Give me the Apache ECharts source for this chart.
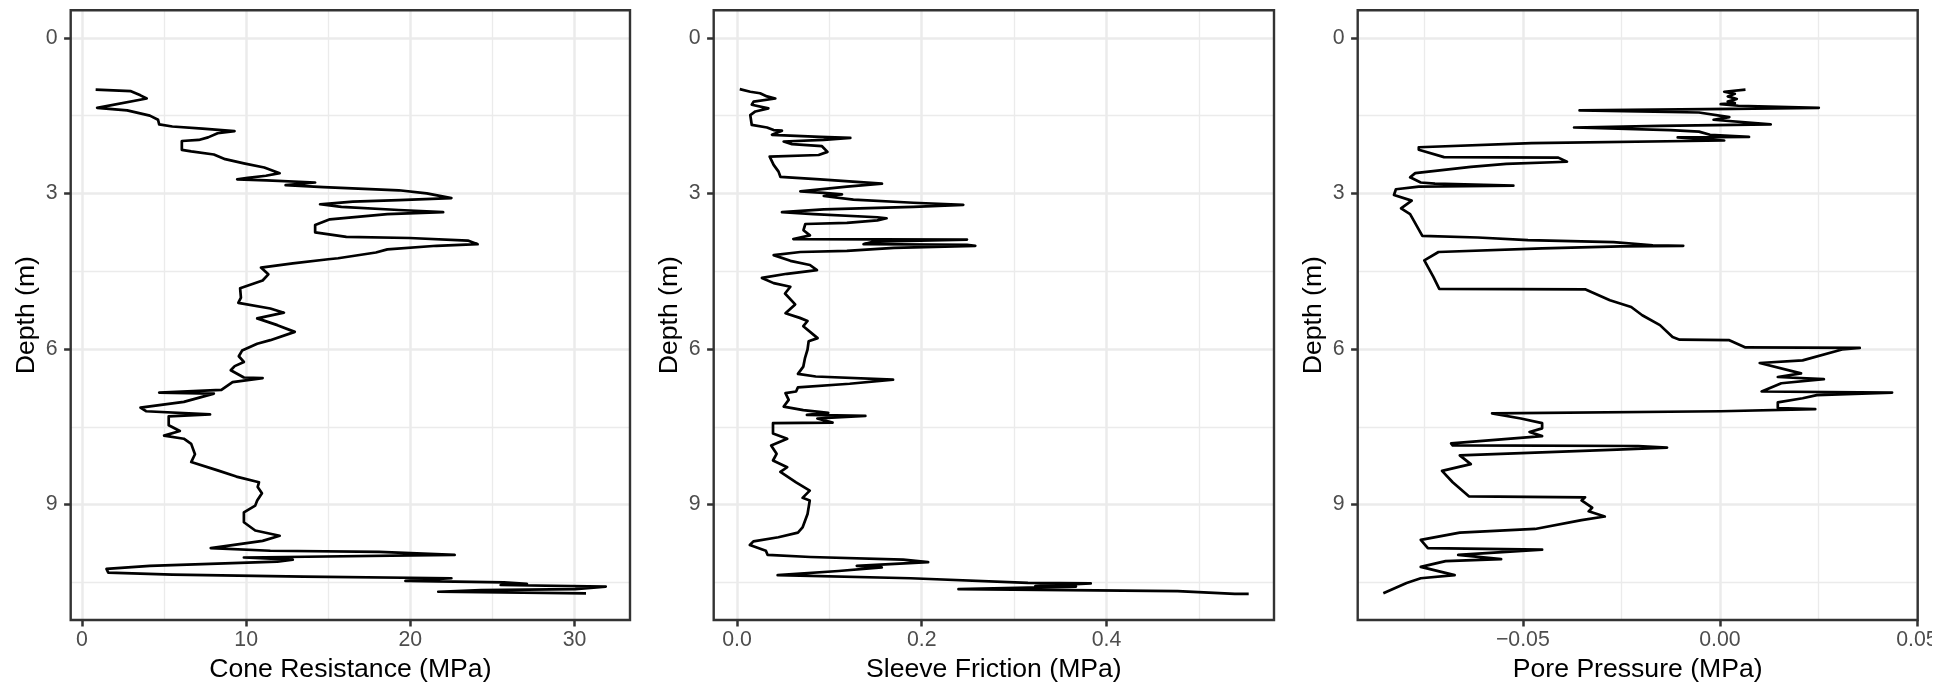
<!DOCTYPE html>
<html>
<head>
<meta charset="utf-8">
<script src="https://cdn.jsdelivr.net/npm/echarts@6.0.0/dist/echarts.min.js"></script>
<style>
html,body{margin:0;padding:0;background:#ffffff;}
#chart{width:1932px;height:685px;}
</style>
</head>
<body>
<div id="chart"></div>
<script>
// ---------------- DATA ----------------
const coneDepth = [1.00,1.03,1.11,1.17,1.35,1.40,1.50,1.58,1.67,1.71,1.75,1.80,1.84,1.92,1.97,1.99,2.16,2.19,2.25,2.34,2.42,2.50,2.61,2.66,2.70,2.73,2.75,2.79,2.84,2.86,2.88,2.94,3.00,3.09,3.13,3.16,3.21,3.26,3.32,3.36,3.40,3.50,3.61,3.75,3.84,3.86,3.91,3.98,4.01,4.08,4.14,4.25,4.27,4.35,4.43,4.56,4.68,4.83,5.01,5.11,5.22,5.30,5.41,5.54,5.67,5.83,5.90,6.03,6.14,6.25,6.33,6.41,6.55,6.56,6.64,6.79,6.84,6.86,7.02,7.13,7.20,7.26,7.30,7.47,7.58,7.67,7.73,7.83,8.03,8.18,8.34,8.46,8.57,8.66,8.78,8.92,9.02,9.15,9.34,9.50,9.60,9.70,9.79,9.84,9.89,9.91,9.97,10.01,10.02,10.06,10.10,10.18,10.24,10.31,10.35,10.39,10.42,10.47,10.50,10.53,10.55,10.58,10.63,10.65,10.68,10.71];
const coneResistance = [0.83,2.98,3.56,3.94,0.92,2.75,4.13,4.63,4.70,5.50,7.34,9.29,8.26,7.68,7.11,6.08,6.08,6.65,8.03,8.72,9.86,11.10,12.04,11.20,10.10,9.45,11.24,14.20,12.40,12.30,14.70,19.30,21.00,22.50,19.30,16.50,14.50,15.80,19.30,22.00,18.60,15.10,14.20,14.20,16.10,19.95,23.50,24.10,21.60,18.60,17.90,15.60,15.00,12.84,10.90,11.35,11.00,9.63,9.68,9.52,11.47,12.30,10.67,11.90,12.96,11.47,10.67,9.75,9.55,9.86,9.30,9.06,9.86,11.00,9.17,8.49,4.70,8.03,6.20,3.56,3.90,7.80,5.28,5.28,5.96,5.00,6.20,6.65,6.88,6.65,8.26,9.40,10.78,10.70,10.96,10.67,10.55,9.86,9.86,10.55,12.04,11.00,8.94,7.84,11.47,18.10,22.70,12.40,9.86,12.84,11.90,4.13,1.49,1.60,5.50,13.50,22.50,19.70,25.70,27.10,25.50,31.90,30.05,24.30,21.70,30.70];

const sleeveDepth = [0.99,1.04,1.07,1.13,1.17,1.23,1.29,1.36,1.42,1.49,1.68,1.73,1.78,1.79,1.87,1.91,1.93,1.97,2.00,2.05,2.09,2.20,2.26,2.29,2.45,2.58,2.68,2.73,2.81,2.87,2.96,2.99,3.02,3.05,3.12,3.18,3.22,3.26,3.31,3.36,3.40,3.46,3.48,3.52,3.57,3.59,3.71,3.81,3.88,3.89,3.93,3.98,3.99,4.01,4.05,4.11,4.13,4.19,4.30,4.38,4.48,4.55,4.63,4.73,4.80,4.93,5.14,5.31,5.40,5.46,5.56,5.79,5.85,6.01,6.17,6.34,6.48,6.53,6.59,6.67,6.74,6.82,6.85,6.98,7.11,7.18,7.23,7.27,7.29,7.34,7.42,7.43,7.63,7.73,7.86,8.02,8.15,8.28,8.37,8.57,8.73,8.87,8.92,9.18,9.44,9.54,9.63,9.71,9.78,9.89,9.97,10.01,10.06,10.11,10.18,10.21,10.28,10.36,10.42,10.51,10.52,10.57,10.58,10.63,10.67,10.72,10.72];
const sleeveFriction = [0.003,0.0144,0.025,0.0325,0.0415,0.018,0.016,0.034,0.0199,0.0144,0.016,0.0325,0.0397,0.0487,0.0379,0.090,0.1227,0.0939,0.0505,0.0596,0.092,0.098,0.0884,0.0354,0.0397,0.045,0.047,0.090,0.157,0.119,0.0686,0.0939,0.1137,0.0939,0.126,0.191,0.245,0.191,0.0939,0.0487,0.083,0.152,0.162,0.152,0.119,0.074,0.072,0.079,0.061,0.249,0.148,0.137,0.249,0.258,0.170,0.119,0.0686,0.0397,0.0578,0.079,0.0866,0.054,0.027,0.0397,0.0578,0.052,0.063,0.0525,0.068,0.0764,0.0718,0.0873,0.0776,0.0764,0.0737,0.0718,0.066,0.0853,0.169,0.122,0.066,0.064,0.0525,0.056,0.0506,0.0718,0.0988,0.0757,0.139,0.087,0.1035,0.039,0.039,0.0544,0.037,0.0429,0.039,0.0544,0.047,0.064,0.0788,0.0710,0.0788,0.0764,0.0710,0.066,0.0448,0.0178,0.0139,0.0313,0.0332,0.0795,0.180,0.207,0.1297,0.1568,0.110,0.044,0.188,0.315,0.383,0.323,0.367,0.2398,0.477,0.539,0.554];

const poreDepth = [1.00,1.04,1.08,1.13,1.18,1.23,1.26,1.28,1.31,1.35,1.37,1.40,1.44,1.53,1.58,1.67,1.70,1.73,1.78,1.81,1.87,1.91,1.92,1.98,2.03,2.11,2.16,2.30,2.31,2.39,2.43,2.49,2.61,2.69,2.79,2.81,2.85,2.87,2.92,3.03,3.14,3.29,3.40,3.82,3.85,3.90,3.94,4.00,4.01,4.02,4.06,4.13,4.29,4.61,4.84,4.85,5.06,5.19,5.35,5.54,5.77,5.82,5.83,5.97,5.98,6.01,6.22,6.27,6.47,6.54,6.58,6.66,6.82,6.84,6.89,6.95,7.03,7.14,7.16,7.20,7.24,7.34,7.43,7.53,7.60,7.68,7.82,7.86,7.87,7.90,7.94,8.05,8.22,8.35,8.57,8.84,8.86,8.92,9.06,9.13,9.23,9.30,9.47,9.54,9.68,9.84,9.87,9.97,10.05,10.09,10.20,10.36,10.42,10.51,10.71];
const porePressure = [0.0065,0.0011,0.0038,0.0020,0.0043,0.0020,0.0038,0.0002,0.0047,0.0251,0.0029,-0.0356,-0.0053,0.0024,-0.0016,0.0129,-0.0152,-0.0370,-0.0125,-0.0053,-0.0025,0.0074,-0.0107,0.0011,-0.0478,-0.0764,-0.0764,-0.0700,-0.0410,-0.0388,-0.0542,-0.0632,-0.0773,-0.0786,-0.0759,-0.0723,-0.0524,-0.0764,-0.0822,-0.0827,-0.0782,-0.0809,-0.0786,-0.0755,-0.0614,-0.0487,-0.0270,-0.0170,-0.0093,-0.0252,-0.0451,-0.0714,-0.0750,-0.0727,-0.0712,-0.0342,-0.0279,-0.0225,-0.0197,-0.0152,-0.0120,-0.0102,0.0024,0.0065,0.0355,0.0310,0.0210,0.0101,0.0206,0.0147,0.0264,0.0156,0.0106,0.0437,0.0246,0.0210,0.0147,0.0147,0.0242,0.0002,-0.0578,-0.0505,-0.0451,-0.0451,-0.0483,-0.0451,-0.0682,-0.0678,-0.0207,-0.0134,-0.0261,-0.0660,-0.0632,-0.0705,-0.0678,-0.0637,-0.0342,-0.0351,-0.0324,-0.0333,-0.0292,-0.0351,-0.0469,-0.0660,-0.0759,-0.0741,-0.0451,-0.0664,-0.0555,-0.0696,-0.0759,-0.0673,-0.0759,-0.0795,-0.0854];

// tick values and labels
const depthTicks = [0, 3, 6, 9];
const depthTickLabels = ['0', '3', '6', '9'];
const depthMinorTicks = [1.5, 4.5, 7.5, 10.5];
const coneTicks = [0, 10, 20, 30];
const coneTickLabels = ['0', '10', '20', '30'];
const coneMinorTicks = [5, 15, 25];
const sleeveTicks = [0, 0.2, 0.4];
const sleeveTickLabels = ['0.0', '0.2', '0.4'];
const sleeveMinorTicks = [0.1, 0.3, 0.5];
const poreTicks = [-0.05, 0, 0.05];
const poreTickLabels = ['\u22120.05', '0.00', '0.05'];
const poreMinorTicks = [-0.075, -0.025, 0.025];

// ---------------- CHART ----------------
const FONT = '"Liberation Sans", Arial, Helvetica, sans-serif';
const TOP = 10.3, HEIGHT = 609.7;
const Y_MIN = -0.53, Y_MAX = 11.225;

const panels = [
  {left: 70.7, width: 559.3, xMin: -0.69, xMax: 33.38, ticks: coneTicks, labels: coneTickLabels, minor: coneMinorTicks, name: 'Cone Resistance (MPa)', depth: coneDepth, values: coneResistance},
  {left: 713.7, width: 560.3, xMin: -0.0252, xMax: 0.5814, ticks: sleeveTicks, labels: sleeveTickLabels, minor: sleeveMinorTicks, name: 'Sleeve Friction (MPa)', depth: sleeveDepth, values: sleeveFriction},
  {left: 1357.7, width: 560.0, xMin: -0.0919, xMax: 0.0502, ticks: poreTicks, labels: poreTickLabels, minor: poreMinorTicks, name: 'Pore Pressure (MPa)', depth: poreDepth, values: porePressure}
];

function labelFor(ticks, labels) {
  return function (v) {
    for (let i = 0; i < ticks.length; i++) {
      if (Math.abs(ticks[i] - v) < 1e-9) return labels[i];
    }
    return '';
  };
}

const tickStyle = {show: true, inside: false, length: 6.6, lineStyle: {color: '#333333', width: 2.5}};
const labelStyle = {color: '#4D4D4D', fontSize: 21.3, fontFamily: FONT};
const titleStyle = {color: '#000000', fontSize: 26.6, fontFamily: FONT};

const grids = [], xAxes = [], yAxes = [], series = [];
panels.forEach(function (p, i) {
  grids.push({
    left: p.left, top: TOP, width: p.width, height: HEIGHT,
    show: true, z: 5, backgroundColor: 'transparent',
    borderColor: '#333333', borderWidth: 2.4,
    containLabel: false, outerBoundsMode: 'none'
  });
  xAxes.push({
    type: 'value', gridIndex: i, position: 'bottom', min: p.xMin, max: p.xMax,
    axisLine: {show: false, onZero: false},
    axisTick: Object.assign({customValues: p.ticks}, tickStyle),
    axisLabel: Object.assign({customValues: p.ticks, margin: 10, formatter: labelFor(p.ticks, p.labels)}, labelStyle),
    splitLine: {show: true, lineStyle: {color: '#EBEBEB', width: 2.5}},
    name: p.name, nameLocation: 'middle', nameGap: 36, nameTextStyle: titleStyle
  });
  xAxes.push({
    type: 'value', gridIndex: i, position: 'bottom', min: p.xMin, max: p.xMax,
    axisLine: {show: false, onZero: false},
    axisTick: {show: false, customValues: p.minor},
    axisLabel: {show: false, customValues: p.minor},
    splitLine: {show: true, lineStyle: {color: '#EBEBEB', width: 1.3}}
  });
  yAxes.push({
    type: 'value', gridIndex: i, position: 'left', inverse: true, min: Y_MIN, max: Y_MAX,
    axisLine: {show: false, onZero: false},
    axisTick: Object.assign({customValues: depthTicks}, tickStyle),
    axisLabel: Object.assign({customValues: depthTicks, margin: 13, formatter: labelFor(depthTicks, depthTickLabels)}, labelStyle),
    splitLine: {show: true, lineStyle: {color: '#EBEBEB', width: 2.5}},
    name: 'Depth (m)', nameLocation: 'middle', nameGap: 31, nameRotate: 90, nameTextStyle: titleStyle
  });
  yAxes.push({
    type: 'value', gridIndex: i, position: 'left', inverse: true, min: Y_MIN, max: Y_MAX,
    axisLine: {show: false, onZero: false},
    axisTick: {show: false, customValues: depthMinorTicks},
    axisLabel: {show: false, customValues: depthMinorTicks},
    splitLine: {show: true, lineStyle: {color: '#EBEBEB', width: 1.3}}
  });
  series.push({
    type: 'line', xAxisIndex: 2 * i, yAxisIndex: 2 * i,
    data: p.values.map(function (v, k) { return [v, p.depth[k]]; }),
    showSymbol: false, symbol: 'none', smooth: false, silent: true, z: 2,
    lineStyle: {color: '#000000', width: 2.7, join: 'round', cap: 'butt'}
  });
});

const chart = echarts.init(document.getElementById('chart'), null, {renderer: 'canvas'});
chart.setOption({
  animation: false,
  backgroundColor: '#ffffff',
  textStyle: {fontFamily: FONT},
  grid: grids,
  xAxis: xAxes,
  yAxis: yAxes,
  series: series
});
</script>
</body>
</html>
